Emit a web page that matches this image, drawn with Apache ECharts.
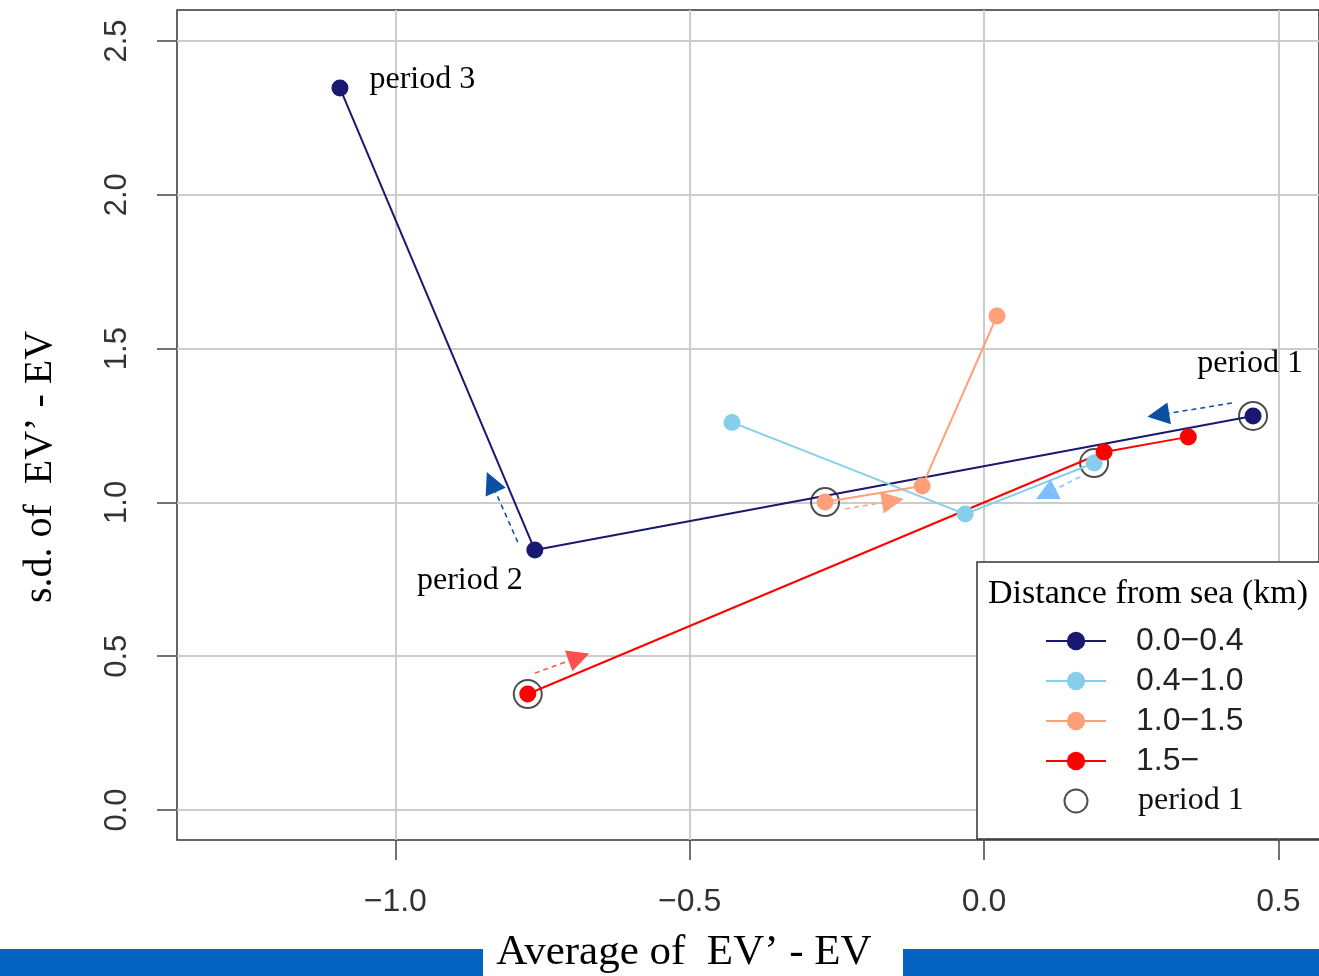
<!DOCTYPE html>
<html>
<head>
<meta charset="utf-8">
<script src="https://cdn.jsdelivr.net/npm/echarts@6/dist/echarts.min.js"></script>
<style>
html,body{margin:0;padding:0;background:#fff;}
#chart{width:1319px;height:976px;}
</style>
</head>
<body>
<div id="chart"></div>
<script>
// ---- data ----
const seriesNames = ['0.0\u22120.4', '0.4\u22121.0', '1.0\u22121.5', '1.5\u2212'];
const periodName = 'period 1';

// points in order period 1, period 2, period 3
const avg_00_04 = [0.457, -0.763, -1.094];
const sd_00_04  = [1.281, 0.845, 2.347];
const avg_04_10 = [0.187, -0.032, -0.428];
const sd_04_10  = [1.128, 0.962, 1.260];
const avg_10_15 = [-0.270, -0.105, 0.022];
const sd_10_15  = [1.001, 1.053, 1.606];
const avg_15    = [-0.775, 0.204, 0.347];
const sd_15     = [0.377, 1.164, 1.213];

const periodLabels = ['period 1', 'period 2', 'period 3'];

// dashed direction arrows: [startX, startY, endX, endY] in data units
const arrow_00_04_a = [0.421, 1.323, 0.296, 1.284];
const arrow_00_04_b = [-0.792, 0.871, -0.837, 1.066];
const arrow_04_10   = [0.163, 1.083, 0.105, 1.027];
const arrow_10_15   = [-0.236, 0.979, -0.155, 1.005];
const arrow_15      = [-0.763, 0.445, -0.688, 0.497];

const xTicks = [-1.0, -0.5, 0.0, 0.5];
const yTicks = [0.0, 0.5, 1.0, 1.5, 2.0, 2.5];
const xRange = [-1.3708, 0.569];
const yRange = [-0.0975, 2.6008];

// ---- styling ----
const colors = ['#191970', '#87ceeb', '#ffa07a', '#ff0000'];
const arrowColors = ['#0b4fa0', '#0b4fa0', '#80bfff', '#ffa07a', '#ff5050'];
const SERIF = '"Liberation Serif", "Times New Roman", serif';
const SANS = '"Liberation Sans", Arial, sans-serif';

function pts(xs, ys) { return xs.map((x, i) => [x, ys[i]]); }
function fmt(v) { return v.toFixed(1).replace('-', '\u2212'); }

const allX = [avg_00_04, avg_04_10, avg_10_15, avg_15];
const allY = [sd_00_04, sd_04_10, sd_10_15, sd_15];

const labelCfg = [
  { position: 'top', distance: 28, offset: [-3, 0] },
  { position: 'bottom', distance: 6, offset: [-65, 0] },
  { position: 'right', distance: 21, offset: [0, -8] }
];

const lineSeries = seriesNames.map((name, k) => {
  const data = pts(allX[k], allY[k]).map((p, i) => {
    if (k !== 0) return p;
    return {
      value: p,
      label: Object.assign({
        show: true, formatter: periodLabels[i],
        fontFamily: SERIF, fontSize: 32, color: '#000'
      }, labelCfg[i])
    };
  });
  return {
    name: name, type: 'line', data: data,
    symbol: 'circle', symbolSize: 17,
    lineStyle: { color: colors[k], width: 2 },
    itemStyle: { color: colors[k] },
    z: 3, silent: true
  };
});

const periodSeries = {
  name: periodName, type: 'scatter',
  data: allX.map((xs, k) => [xs[0], allY[k][0]]),
  symbol: 'circle', symbolSize: 28,
  itemStyle: { color: 'rgba(255,255,255,0)', borderColor: '#222', borderWidth: 2 },
  z: 2, silent: true
};

const arrows = [arrow_00_04_a, arrow_00_04_b, arrow_04_10, arrow_10_15, arrow_15];
const arrowSeries = {
  type: 'lines', coordinateSystem: 'cartesian2d',
  symbol: ['none', 'triangle'], symbolSize: 22,
  silent: true, z: 5,
  data: arrows.map((a, i) => ({
    coords: [[a[0], a[1]], [a[2], a[3]]],
    lineStyle: { color: arrowColors[i], width: 1.5, type: [5, 4], opacity: 1 }
  }))
};

const chart = echarts.init(document.getElementById('chart'), null, { renderer: 'canvas' });
chart.setOption({
  animation: false,
  backgroundColor: '#fff',
  grid: {
    left: 177, top: 10, right: 0, bottom: 136,
    show: true, borderColor: '#333', borderWidth: 1.5, backgroundColor: '#fff'
  },
  xAxis: {
    type: 'value', min: xRange[0], max: xRange[1],
    axisLine: { show: false, onZero: false },
    axisTick: { show: true, length: 20, lineStyle: { color: '#444', width: 1.5 }, customValues: xTicks },
    axisLabel: { customValues: xTicks, formatter: fmt, fontFamily: SANS, fontSize: 32, color: '#333', margin: 46 },
    splitLine: { show: true, lineStyle: { color: '#cccccc', width: 2 } }
  },
  yAxis: {
    type: 'value', min: yRange[0], max: yRange[1],
    axisLine: { show: false, onZero: false },
    axisTick: { show: true, length: 20, lineStyle: { color: '#444', width: 1.5 }, customValues: yTicks },
    axisLabel: { customValues: yTicks, formatter: fmt, fontFamily: SANS, fontSize: 31, color: '#333', margin: 44, rotate: 90 },
    splitLine: { show: true, lineStyle: { color: '#cccccc', width: 2 } }
  },
  legend: {
    data: seriesNames.concat([periodName]),
    orient: 'vertical', left: 977, top: 562,
    padding: [63, 80, 22, 68],
    itemWidth: 60, itemHeight: 23, itemGap: 8,
    backgroundColor: '#fff', borderColor: '#333', borderWidth: 1.5, borderRadius: 0,
    selectedMode: false,
    formatter: n => n === periodName ? '{s|' + n + '}' : '{a|' + n + '}',
    textStyle: {
      lineHeight: 32,
      rich: {
        a: { fontFamily: SANS, fontSize: 32, color: '#222', lineHeight: 32, padding: [0, 0, 0, 25] },
        s: { fontFamily: SERIF, fontSize: 32, color: '#111', lineHeight: 32, padding: [0, 0, 0, 27] }
      }
    }
  },
  graphic: [
    { type: 'rect', left: 0, top: 949, shape: { width: 483, height: 27 }, style: { fill: '#0563c1' }, z: 50 },
    { type: 'rect', left: 903, top: 949, shape: { width: 416, height: 27 }, style: { fill: '#0563c1' }, z: 50 },
    { type: 'text', x: 684, y: 953, z: 60,
      style: { text: 'Average of  EV\u2019 - EV', font: '43px ' + SERIF, fill: '#000', align: 'center', verticalAlign: 'middle' } },
    { type: 'text', x: 40, y: 467, rotation: Math.PI / 2, z: 60,
      style: { text: 's.d. of  EV\u2019 - EV', font: '40px ' + SERIF, fill: '#000', align: 'center', verticalAlign: 'middle' } },
    { type: 'text', x: 988, y: 594, z: 100,
      style: { text: 'Distance from sea (km)', font: '34px ' + SERIF, fill: '#000', align: 'left', verticalAlign: 'middle' } }
  ],
  series: lineSeries.concat([periodSeries, arrowSeries])
});
</script>
</body>
</html>
